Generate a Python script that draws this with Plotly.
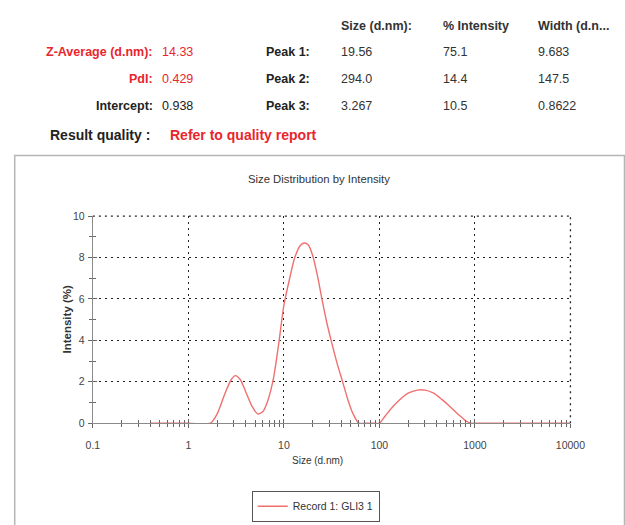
import plotly.graph_objects as go

W, H = 625, 525

# Size distribution by intensity (Record 1: GLI3 1)
size_nm = [0.4, 1.0, 1.7, 2.0, 2.4, 2.8, 3.1, 3.5, 4.0, 4.6, 5.3, 6.0, 6.8, 7.8,
           8.8, 10.0, 11.5, 13.0, 15.0, 16.5, 18.0, 20.0, 22.5, 25.0, 28.0,
           31.6, 36.0, 41.5, 47.0, 53.0, 61.0, 70.0, 80.0, 90.0, 100.0, 115.0,
           135.0, 160.0, 200.0, 250.0, 300.0, 370.0, 450.0, 550.0, 680.0,
           800.0, 900.0, 1000.0, 2000.0, 5000.0, 10000.0]
intensity_pct = [0.0, 0.0, 0.0, 0.45, 1.4, 2.1, 2.3, 2.1, 1.5, 0.85, 0.45, 0.55,
                 1.1, 2.2, 3.8, 5.7, 7.0, 8.0, 8.6, 8.7, 8.6, 8.1, 7.1, 6.0, 4.9,
                 3.9, 2.9, 1.95, 1.1, 0.45, 0.0, 0.0, 0.0, 0.0, 0.0, 0.35,
                 0.75, 1.1, 1.45, 1.6, 1.6, 1.45, 1.15, 0.8, 0.4,
                 0.12, 0.0, 0.0, 0.0, 0.0, 0.0]

x_tick_vals = [0.1, 1, 10, 100, 1000, 10000]
x_tick_text = ["0.1", "1", "10", "100", "1000", "10000"]
y_tick_vals = [0, 2, 4, 6, 8, 10]
y_minor_vals = [1, 3, 5, 7, 9]

column_headers = ["Size (d.nm):", "% Intensity", "Width (d.n..."]
summary_labels = ["Z-Average (d.nm):", "PdI:", "Intercept:"]
summary_values = ["14.33", "0.429", "0.938"]
summary_is_red = [True, True, False]
peak_labels = ["Peak 1:", "Peak 2:", "Peak 3:"]
peak_size = ["19.56", "294.0", "3.267"]
peak_intensity = ["75.1", "14.4", "10.5"]
peak_width = ["9.683", "147.5", "0.8622"]
quality_label = "Result quality :"
quality_value = "Refer to quality report"

FONT = "Liberation Sans, Arial, sans-serif"
RED = "#e8262d"
INK = "#222222"
GRID_DASH = "2px,4px"
GRID_COLOR = "#222"
GRID_WIDTH = 1.3


def px(x):
    return x / W


def py(y):
    return 1 - y / H


# plot area in pixels
X0, X1, Y0, Y1 = 89, 584, 215, 427
X_RANGE = [-1, 4]
Y_RANGE = [0, 10]

x_minor_vals = [m * 10 ** e for e in range(-1, 4) for m in range(2, 10)]

fig = go.Figure()
fig.add_trace(go.Scatter(
    x=size_nm, y=intensity_pct, mode="lines", name="Record 1: GLI3 1",
    line=dict(color="#f07070", width=1.4, shape="spline", smoothing=0.7),
    xaxis="x", yaxis="y",
))
# overlay trace so the tick-mark axes are drawn
fig.add_trace(go.Scatter(x=[1], y=[0], mode="markers", opacity=0,
                         showlegend=False, hoverinfo="skip",
                         xaxis="x2", yaxis="y2"))

axis_font = dict(family=FONT, size=10.5, color="#444")
grid = dict(showgrid=True, gridcolor=GRID_COLOR, griddash=GRID_DASH,
            gridwidth=GRID_WIDTH)

fig.update_layout(
    width=W, height=H, autosize=False,
    margin=dict(l=0, r=0, t=0, b=0),
    paper_bgcolor="white", plot_bgcolor="white",
    font=dict(family=FONT, color=INK),
    xaxis=dict(type="log", range=X_RANGE, domain=[px(X0), px(X1)],
               tickvals=x_tick_vals, ticktext=x_tick_text, tickfont=axis_font,
               ticklabelstandoff=8,
               showline=True, linecolor="#8a8a8a", linewidth=1.2,
               ticks="outside", ticklen=4, tickcolor="#666",
               minor=dict(tickvals=x_minor_vals, ticks="outside", ticklen=3,
                          tickcolor="#666", showgrid=False),
               zeroline=False, anchor="y", **grid),
    yaxis=dict(range=Y_RANGE, domain=[py(Y1), py(Y0)],
               tickvals=y_tick_vals, tickfont=axis_font,
               ticklabelstandoff=1,
               showline=True, linecolor="#8a8a8a", linewidth=1.2,
               ticks="outside", ticklen=4, tickcolor="#666",
               minor=dict(tickvals=y_minor_vals, ticks="outside", ticklen=3,
                          tickcolor="#666", showgrid=False),
               zeroline=False, anchor="x", **grid),
    xaxis2=dict(type="log", range=X_RANGE, overlaying="x", anchor="y2",
                tickvals=x_tick_vals, showticklabels=False, showgrid=False,
                ticks="inside", ticklen=4, tickcolor="#666",
                minor=dict(tickvals=x_minor_vals, ticks="inside", ticklen=3,
                           tickcolor="#666", showgrid=False),
                showline=False, zeroline=False),
    yaxis2=dict(range=Y_RANGE, overlaying="y", anchor="x2",
                tickvals=y_tick_vals, showticklabels=False, showgrid=False,
                ticks="inside", ticklen=4, tickcolor="#666",
                minor=dict(tickvals=y_minor_vals, ticks="inside", ticklen=3,
                           tickcolor="#666", showgrid=False),
                showline=False, zeroline=False),
    showlegend=True,
    legend=dict(x=px(320), xanchor="center", y=py(512), yanchor="middle",
                bordercolor="#555", borderwidth=1, bgcolor="white",
                font=dict(family=FONT, size=10.5, color="#333"),
                itemwidth=30),
)

# gridlines on the top and right edges of the plot area
edge = dict(color=GRID_COLOR, width=GRID_WIDTH, dash=GRID_DASH)
fig.add_shape(type="line", xref="x domain", yref="y domain",
              x0=0, x1=1, y0=1, y1=1, line=edge, layer="below")
fig.add_shape(type="line", xref="x domain", yref="y domain",
              x0=1, x1=1, y0=0, y1=1, line=edge, layer="below")

ann = []


def text(x, y, s, anchor="left", size=12.5, color=INK, bold=False, angle=0):
    ann.append(dict(x=px(x), y=py(y), xref="paper", yref="paper",
                    text=f"<b>{s}</b>" if bold else s, showarrow=False,
                    xanchor=anchor, yanchor="middle", textangle=angle,
                    font=dict(family=FONT, size=size, color=color)))


# results header
col_x = [344, 450, 548]
for cx, head in zip(col_x, column_headers):
    text(cx, 20, head, bold=True, color="#333")

row_y = [47, 75, 102]
for i, ry in enumerate(row_y):
    c = RED if summary_is_red[i] else INK
    text(153, ry, summary_labels[i], anchor="right", color=c, bold=True)
    text(159, ry, summary_values[i], color=c)
    text(316, ry, peak_labels[i], anchor="right", bold=True)
    text(col_x[0], ry, peak_size[i], color="#333")
    text(col_x[1], ry, peak_intensity[i], color="#333")
    text(col_x[2], ry, peak_width[i], color="#333")

text(150, 132, quality_label, anchor="right", size=14, bold=True)
text(167, 132, quality_value, size=14, bold=True, color=RED)

# chart titles
text(323, 177, "Size Distribution by Intensity", anchor="center", size=11.3, color="#333")
text(322, 465, "Size (d.nm)", anchor="center", size=10, color="#333")
text(62, 320, "Intensity (%)", anchor="center", size=11.5, color="#333",
     bold=True, angle=-90)

fig.update_layout(annotations=ann)

# report panel frame
fig.add_shape(type="rect", xref="paper", yref="paper",
              x0=px(8), x1=px(640), y0=py(540), y1=py(153),
              line=dict(color="#b5b5b5", width=1.5), layer="below")

fig.write_html("out.html")
